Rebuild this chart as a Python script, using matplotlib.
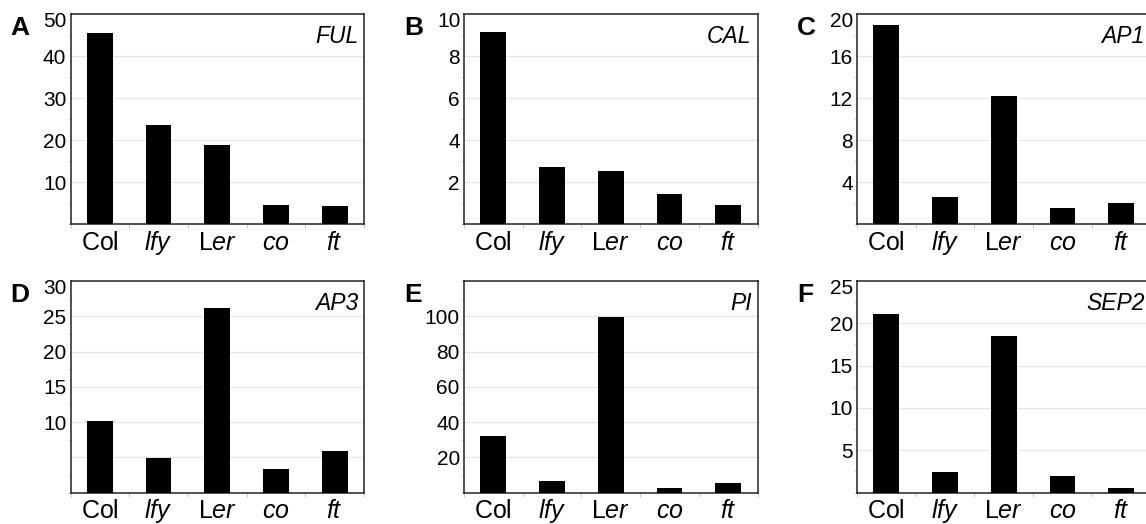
import matplotlib
matplotlib.use("Agg")
import matplotlib.pyplot as plt
import matplotlib.ticker as mticker

plt.rcParams['font.family'] = ['Liberation Sans', 'DejaVu Sans']
plt.rcParams['mathtext.fontset'] = 'custom'
plt.rcParams['mathtext.rm'] = 'Liberation Sans'
plt.rcParams['mathtext.it'] = 'Liberation Sans:italic'

# genotypes on the x axis
genotypes = ["Col", "lfy", "Ler", "co", "ft"]
genotype_labels = ["$\\mathrm{Col}$", "$\\mathit{lfy}$", "$\\mathrm{L}\\mathit{er}$",
                   "$\\mathit{co}$", "$\\mathit{ft}$"]

# expression levels
ful = [45.5, 23.6, 18.9, 4.6, 4.4]
cal = [9.16, 2.7, 2.54, 1.44, 0.9]
ap1 = [19.0, 2.6, 12.2, 1.5, 2.0]
ap3 = [10.2, 4.95, 26.2, 3.3, 5.9]
pi = [32.0, 6.6, 99.5, 2.5, 5.5]
sep2 = [21.1, 2.4, 18.5, 2.0, 0.55]

panel_letters = ["A", "B", "C", "D", "E", "F"]
gene_names = ["FUL", "CAL", "AP1", "AP3", "PI", "SEP2"]
series = [ful, cal, ap1, ap3, pi, sep2]
y_max = [50, 10, 20, 30, 120, 25]
y_ticks = [[10, 20, 30, 40, 50],
           [2, 4, 6, 8, 10],
           [4, 8, 12, 16, 20],
           [5, 10, 15, 20, 25, 30],
           [20, 40, 60, 80, 100],
           [5, 10, 15, 20, 25]]
y_labels = [["10", "20", "30", "40", "50"],
            ["2", "4", "6", "8", "10"],
            ["4", "8", "12", "16", "20"],
            ["", "10", "15", "20", "25", "30"],
            ["20", "40", "60", "80", "100"],
            ["5", "10", "15", "20", "25"]]

W, H = 1146, 524
fig = plt.figure(figsize=(W / 100, H / 100), dpi=100)

# axes boxes in pixels: (left, top, bottom)
lefts = [70.5, 464, 857]
rows = [(14, 224), (281, 492.5)]
ax_w = 293.5

for i in range(6):
    r, c = divmod(i, 3)
    top, bot = rows[r]
    ax = fig.add_axes([lefts[c] / W, (H - bot) / H, ax_w / W, (bot - top) / H])
    x = range(len(genotypes))
    ax.bar(x, series[i], width=0.44, color="black", zorder=3)
    ax.set_xlim(-0.5, 4.5)
    ax.set_ylim(0, y_max[i])

    # light gridlines at the ticks
    for t in y_ticks[i]:
        if t < y_max[i]:
            ax.axhline(t, color="#e6e6e6", lw=0.9, zorder=1)

    labels = list(y_labels[i])
    top_label = None
    if y_ticks[i][-1] == y_max[i]:
        # the label at the top edge sits just below it, not centred on it
        top_label = labels[-1]
        labels[-1] = ""
    ax.set_yticks(y_ticks[i])
    ax.set_yticklabels(labels)
    ax.tick_params(axis="y", which="major", length=0, pad=3, labelsize=15)
    if top_label:
        ax.annotate(top_label, xy=(0, y_max[i]), xycoords=ax.get_yaxis_transform(),
                    xytext=(-2.5, 1.5), textcoords="offset points", ha="right", va="top",
                    fontsize=15)

    half = (y_ticks[i][1] - y_ticks[i][0]) / 2
    ax.yaxis.set_minor_locator(mticker.MultipleLocator(half))
    ax.tick_params(axis="y", which="minor", length=2, color="#d0d0d0", width=0.7)

    ax.set_xticks(list(x))
    ax.set_xticklabels(genotype_labels)
    ax.tick_params(axis="x", which="major", length=0, pad=18.5, labelsize=18)
    for lab in ax.get_xticklabels():
        lab.set_va("baseline")
    ax.xaxis.set_minor_locator(mticker.FixedLocator([-0.5, 0.5, 1.5, 2.5, 3.5, 4.5]))
    ax.tick_params(axis="x", which="minor", length=3, color="#c8c8c8", width=0.7)

    for s in ax.spines.values():
        s.set_color("#222222")
        s.set_linewidth(1.1)

    ax.text(0.98, 0.95, gene_names[i], transform=ax.transAxes, ha="right", va="top",
            fontsize=16.5, style="italic")
    fig.text((lefts[c] - 60) / W, (H - top - 2) / H, panel_letters[i], ha="left", va="top",
             fontsize=19, fontweight="bold")

fig.savefig("out.png", dpi=100)
